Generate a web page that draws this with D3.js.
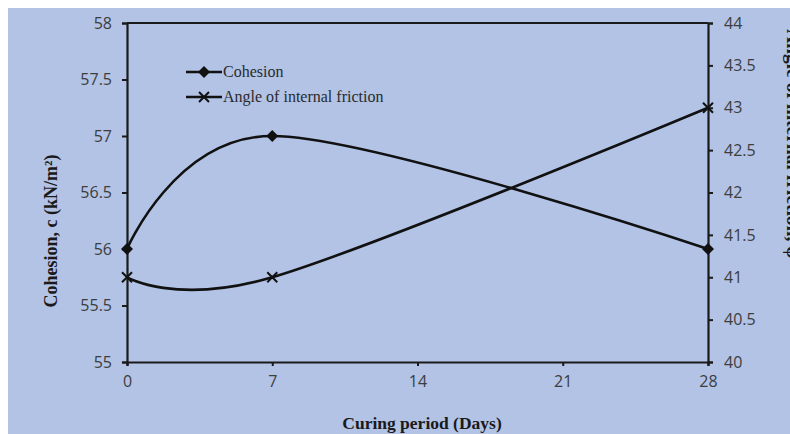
<!DOCTYPE html>
<html>
<head>
<meta charset="utf-8">
<script src="https://cdn.jsdelivr.net/npm/d3@7"></script>
<style>
  body { margin: 0; background: #fff; }
  svg { display: block; }
</style>
</head>
<body>
<div id="main"></div>
<script>

// data
const days = [0, 7, 28];
const cohesion = [56, 57, 56];
const friction = [41, 41, 43];
const xTicks = [0, 7, 14, 21, 28];
const leftTicks = [55, 55.5, 56, 56.5, 57, 57.5, 58];
const rightTicks = [40, 40.5, 41, 41.5, 42, 42.5, 43, 43.5, 44];

const w = 790;
const h = 434;

const svg = d3.select('#main').append('svg').attr('width', w).attr('height', h);

// background panel
svg.append('rect')
    .attr('x', 8).attr('y', 8)
    .attr('width', w - 8).attr('height', h - 8)
    .attr('fill', '#b2c3e6');

const x = d3.scaleLinear().domain([0, 28]).range([127, 708]);
const yL = d3.scaleLinear().domain([55, 58]).range([362, 23]);
const yR = d3.scaleLinear().domain([40, 44]).range([362, 23]);

const tickFont = '"Open Sans", sans-serif';

// axes
const gx = svg.append('g').attr('transform', 'translate(0,362)')
    .call(d3.axisBottom(x).tickValues(xTicks).tickSize(4).tickPadding(10).tickFormat(d3.format('d')));
const gl = svg.append('g').attr('transform', 'translate(127,0)')
    .call(d3.axisLeft(yL).tickValues(leftTicks).tickSize(5).tickPadding(10).tickFormat(d => d));
const gr = svg.append('g').attr('transform', 'translate(708,0)')
    .call(d3.axisRight(yR).tickValues(rightTicks).tickSize(5).tickPadding(11).tickFormat(d => d));

[gx, gl, gr].forEach(g => {
    g.select('.domain').attr('stroke', '#1a1a1a').attr('stroke-width', 2.2);
    g.selectAll('.tick line').attr('stroke', '#1a1a1a').attr('stroke-width', 2);
    g.selectAll('.tick text')
        .attr('fill', '#3d3d3d')
        .style('font-family', tickFont)
        .style('font-size', '16px');
});

// top border
svg.append('line')
    .attr('x1', 127).attr('x2', 708)
    .attr('y1', 23).attr('y2', 23)
    .attr('stroke', '#1a1a1a').attr('stroke-width', 2.2);

// lines (smoothed like the spreadsheet chart)
const curve = d3.curveCardinal.tension(0);

const cohLine = d3.line().x((d, i) => x(days[i])).y(d => yL(d)).curve(curve);
const fricLine = d3.line().x((d, i) => x(days[i])).y(d => yR(d)).curve(curve);

svg.append('path').datum(cohesion)
    .attr('d', cohLine)
    .attr('fill', 'none').attr('stroke', '#111').attr('stroke-width', 2.6);

svg.append('path').datum(friction)
    .attr('d', fricLine)
    .attr('fill', 'none').attr('stroke', '#111').attr('stroke-width', 2.6);

// markers
const diamond = 'M0,-6L6,0L0,6L-6,0Z';
const cross = 'M-5,-5L5,5M-5,5L5,-5';

svg.selectAll('.coh-pt').data(cohesion).enter().append('path')
    .attr('class', 'coh-pt')
    .attr('transform', (d, i) => `translate(${x(days[i])},${yL(d)})`)
    .attr('d', diamond)
    .attr('fill', '#111');

svg.selectAll('.fric-pt').data(friction).enter().append('path')
    .attr('class', 'fric-pt')
    .attr('transform', (d, i) => `translate(${x(days[i])},${yR(d)})`)
    .attr('d', cross)
    .attr('fill', 'none').attr('stroke', '#111').attr('stroke-width', 2);

// legend
const legend = svg.append('g').attr('class', 'legend');
const items = [
    { label: 'Cohesion', mark: diamond, y: 72, filled: true },
    { label: 'Angle of internal friction', mark: cross, y: 97, filled: false }
];
items.forEach(it => {
    legend.append('line')
        .attr('x1', 186).attr('x2', 222)
        .attr('y1', it.y).attr('y2', it.y)
        .attr('stroke', '#111').attr('stroke-width', 2.6);
    legend.append('path')
        .attr('transform', `translate(204,${it.y})`)
        .attr('d', it.mark)
        .attr('fill', it.filled ? '#111' : 'none')
        .attr('stroke', it.filled ? 'none' : '#111')
        .attr('stroke-width', 2);
    legend.append('text')
        .attr('x', 223).attr('y', it.y + 5)
        .attr('fill', '#2a2a2a')
        .style('font-family', '"Liberation Serif", serif')
        .style('font-size', '16px')
        .text(it.label);
});

// axis titles
const titleStyle = sel => sel
    .attr('fill', '#1a1a1a')
    .style('font-family', '"Liberation Serif", serif')
    .style('font-weight', 'bold')
    .style('font-size', '17.5px');

svg.append('text')
    .attr('x', 422).attr('y', 429)
    .attr('text-anchor', 'middle')
    .call(titleStyle)
    .text('Curing period (Days)');

svg.append('text')
    .attr('transform', 'translate(57,231) rotate(-90)')
    .attr('text-anchor', 'middle')
    .call(titleStyle)
    .style('font-size', '18px')
    .text('Cohesion, c (kN/m²)');

svg.append('text')
    .attr('transform', 'translate(787,29) rotate(90)')
    .attr('text-anchor', 'start')
    .call(titleStyle)
    .style('font-size', '19.5px')
    .text('Angle of internal friction, φ');

</script>
</body>
</html>
